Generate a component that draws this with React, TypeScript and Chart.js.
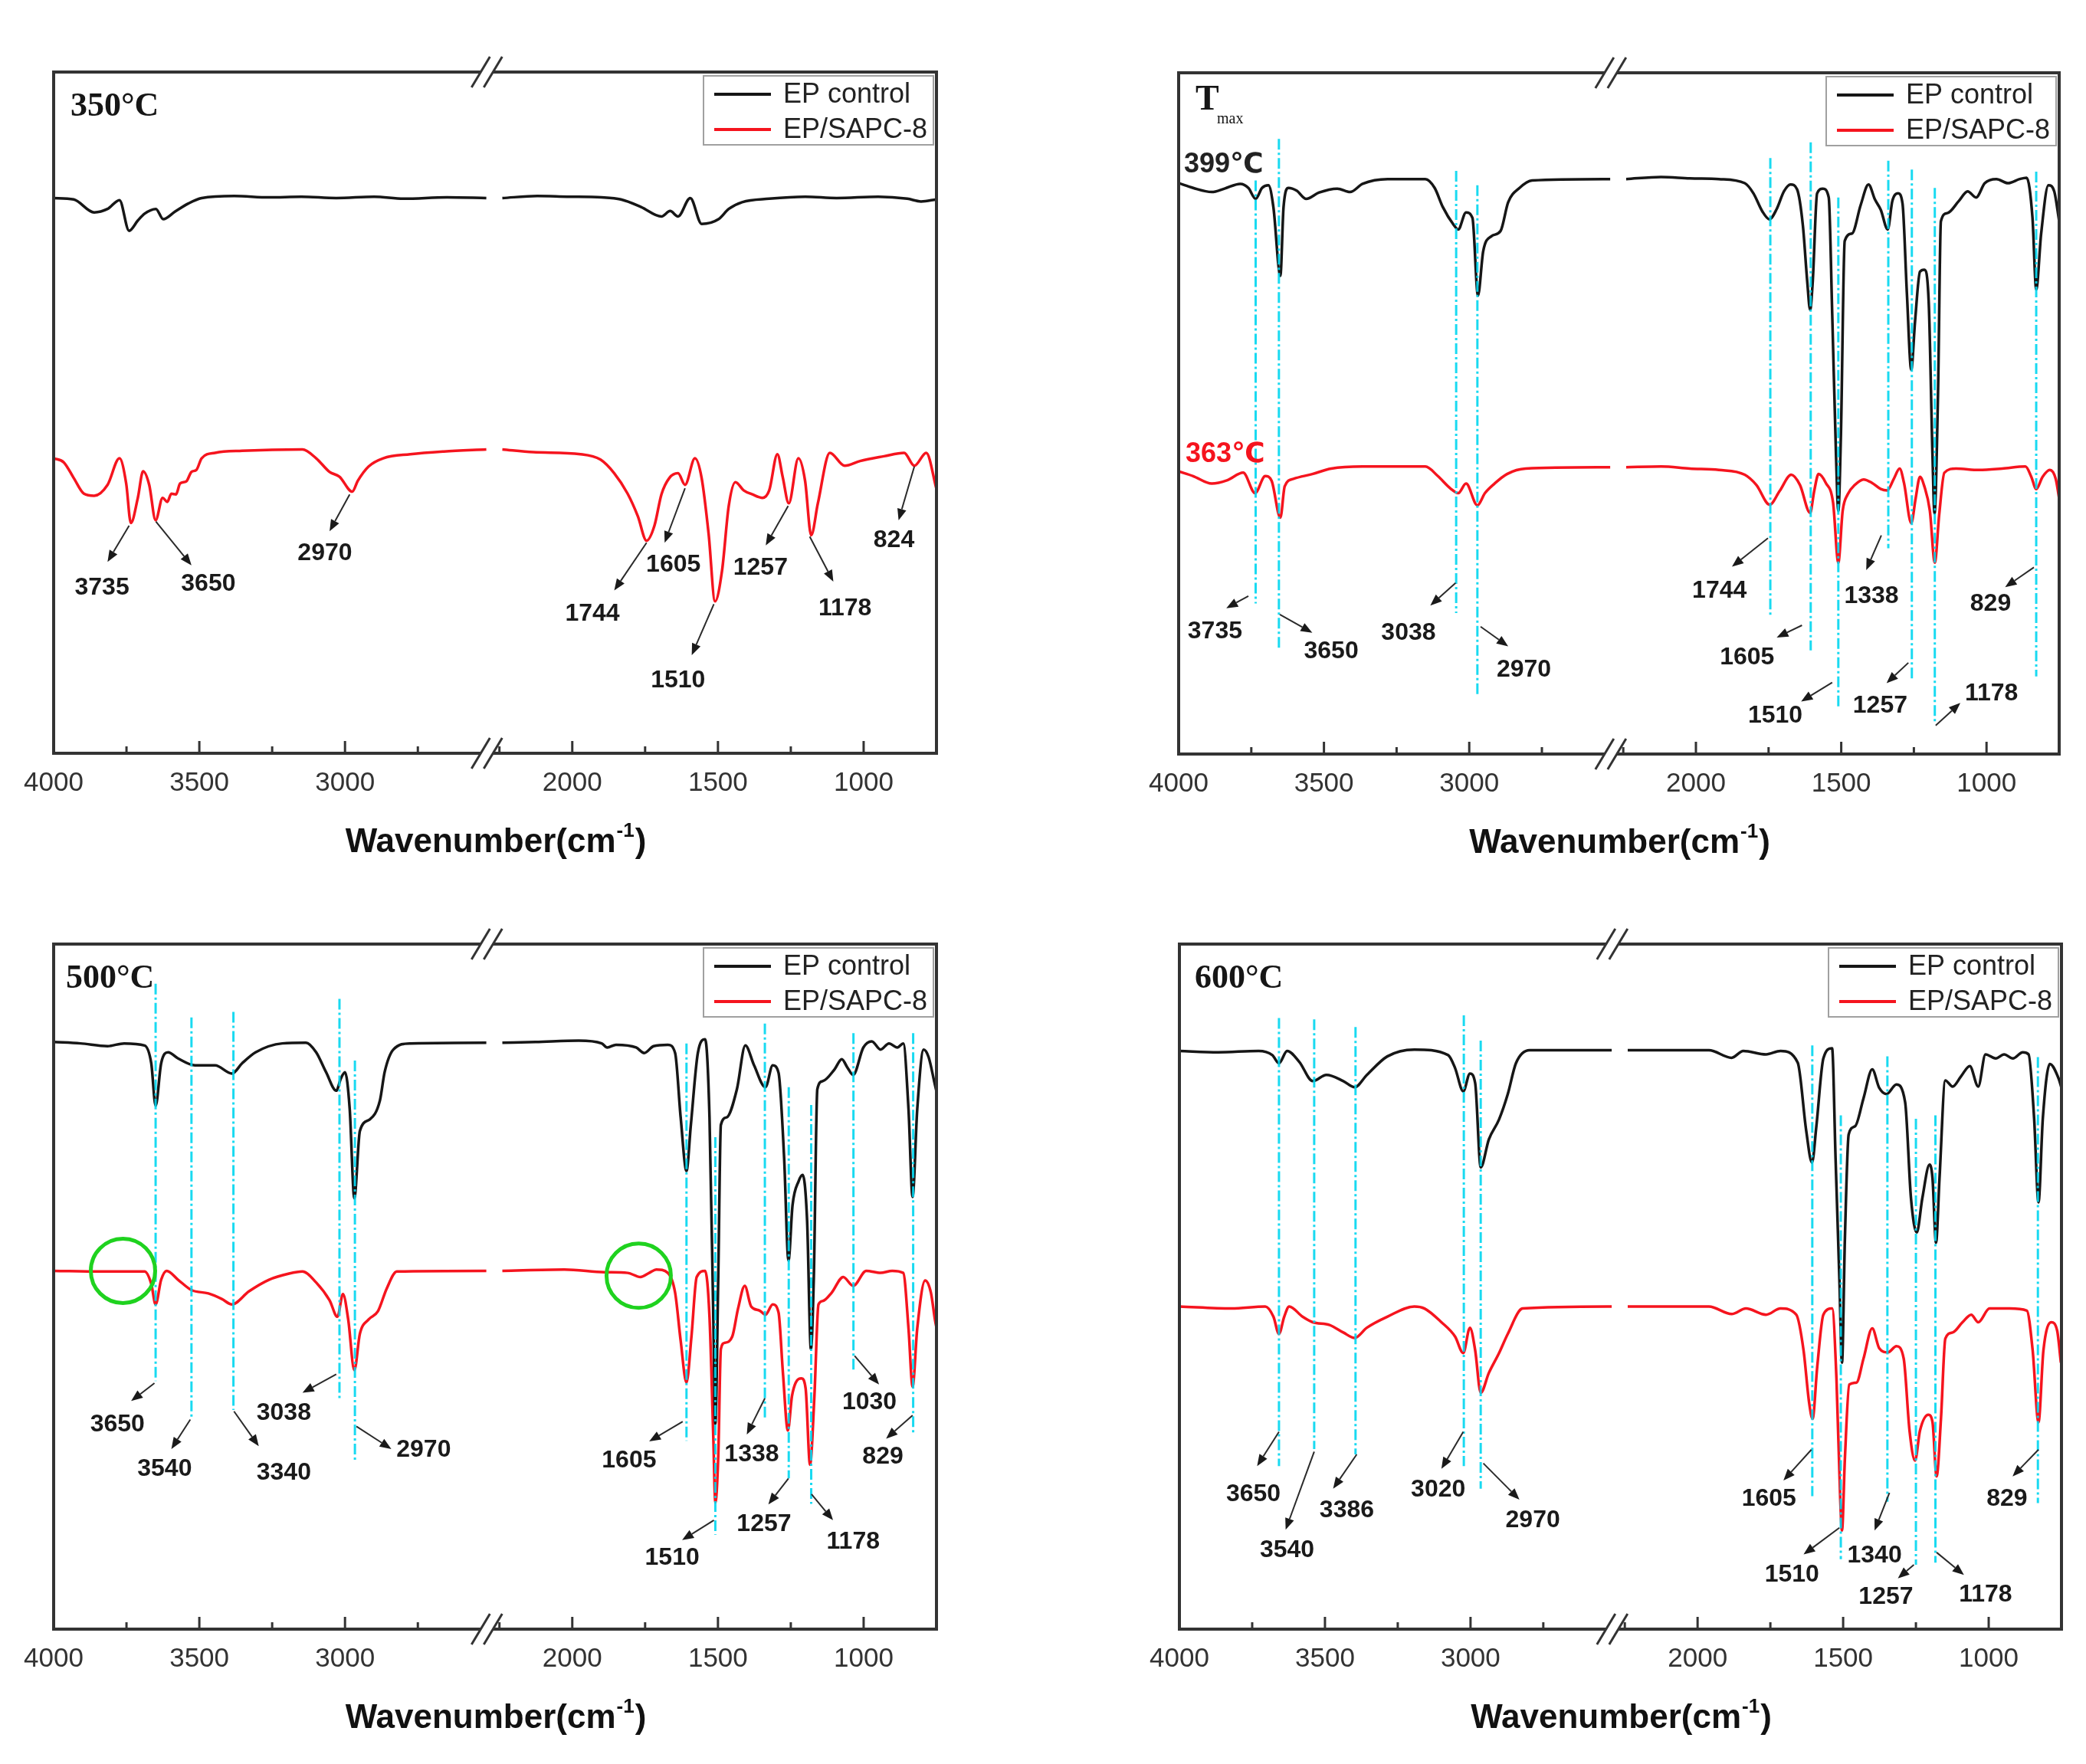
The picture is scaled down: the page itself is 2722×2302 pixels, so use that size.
import React, { useRef, useEffect } from 'react';
import { Chart, registerables } from 'chart.js';

Chart.register(...registerables);

// the x axis is broken: the left part runs 4000..2500, the right part 2280..750
const BREAK_HI = 2500;
const BREAK_LO = 2280;
const SHIFT = BREAK_HI - BREAK_LO;
const toU = (w: number) => (w >= BREAK_HI ? w - SHIFT : w);
const fromU = (u: number) => (u > BREAK_LO ? u + SHIFT : u);

const majorTicks = [4000, 3500, 3000, 2000, 1500, 1000];
const minorTicks = [3750, 3250, 2750, 2250, 1750, 1250];

const seriesLabels = ['EP control', 'EP/SAPC-8'];

// ---- 350 °C ----
const ep350 = [
  [4000, 81.5], [3931, 81.3], [3861, 79.4], [3815, 79.9], [3774, 81.2], [3741, 76.7], [3711, 78.2],
  [3688, 79.2], [3649, 79.9], [3624, 78.4], [3584, 79.5], [3538, 80.7], [3492, 81.5], [3380, 81.8],
  [3261, 81.6], [3150, 81.7], [3030, 81.5], [2900, 81.7], [2799, 81.4], [2650, 81.6], [2515, 81.5],
  [2240, 81.5], [2120, 81.8], [2018, 81.7], [1900, 81.6], [1833, 81.3], [1764, 80.2], [1694, 78.8],
  [1664, 79.6], [1637, 78.8], [1595, 81.5], [1556, 77.7], [1498, 78.4], [1463, 79.9], [1417, 80.9],
  [1324, 81.4], [1200, 81.7], [1093, 81.5], [950, 81.7], [850, 81.4], [803, 81.0], [750, 81.3],
];
const sapc350 = [
  [4000, 43.3], [3965, 42.7], [3931, 40.4], [3896, 38.1], [3861, 37.8], [3815, 39.4], [3774, 43.3],
  [3751, 39.6], [3735, 33.8], [3711, 37.5], [3693, 41.4], [3672, 39.4], [3650, 34.2], [3626, 37.5],
  [3610, 36.9], [3596, 38.1], [3580, 38.0], [3566, 39.6], [3545, 39.9], [3527, 41.3], [3510, 41.6],
  [3492, 43.3], [3446, 44.1], [3353, 44.4], [3146, 44.6], [3099, 43.3], [3053, 41.3], [3019, 40.6],
  [2975, 38.4], [2956, 40.0], [2919, 42.1], [2869, 43.3], [2776, 43.9], [2661, 44.3], [2515, 44.6],
  [2240, 44.6], [2134, 44.2], [1972, 43.9], [1903, 43.1], [1856, 41.1], [1810, 38.1], [1775, 34.8],
  [1745, 31.2], [1718, 33.4], [1694, 38.0], [1667, 40.4], [1637, 41.1], [1613, 39.4], [1579, 43.3],
  [1556, 40.4], [1532, 32.2], [1510, 22.3], [1486, 26.8], [1463, 36.3], [1440, 39.8], [1412, 38.6],
  [1382, 38.0], [1347, 37.5], [1324, 38.6], [1296, 43.9], [1278, 40.6], [1257, 36.7], [1224, 43.3],
  [1201, 40.0], [1180, 32.0], [1157, 36.7], [1116, 44.1], [1065, 42.2], [1012, 42.9], [930, 43.6],
  [861, 44.1], [826, 42.2], [785, 44.1], [750, 38.8],
];
const notes350 = [
  { text: '3735', from: [3741, 33.4], to: [3815, 28.1], at: [3834, 24.3] },
  { text: '3650', from: [3649, 34.0], to: [3527, 27.6], at: [3469, 24.8] },
  { text: '2970', from: [2984, 38.0], to: [3053, 32.6], at: [3069, 29.3] },
  { text: '1744', from: [1745, 30.9], to: [1856, 23.9], at: [1931, 20.5] },
  { text: '1605', from: [1613, 38.9], to: [1683, 30.9], at: [1653, 27.6] },
  { text: '1510', from: [1514, 21.9], to: [1590, 14.4], at: [1637, 10.7] },
  { text: '1257', from: [1259, 36.3], to: [1336, 30.5], at: [1354, 27.2] },
  { text: '1178', from: [1185, 31.8], to: [1104, 25.2], at: [1064, 21.2] },
  { text: '824', from: [826, 42.1], to: [880, 34.2], at: [896, 31.2] },
];

// ---- Tmax ----
const epTmax = [
  [4000, 83.8], [3950, 83.1], [3886, 82.5], [3842, 83.0], [3788, 83.7], [3760, 83.1], [3735, 81.5],
  [3713, 83.1], [3691, 83.5], [3674, 80.3], [3650, 70.2], [3639, 80.3], [3622, 83.1], [3594, 82.7],
  [3561, 81.5], [3518, 82.4], [3454, 83.0], [3410, 82.5], [3367, 83.7], [3281, 84.4], [3151, 84.4],
  [3119, 83.1], [3091, 80.3], [3054, 77.7], [3038, 77.0], [3011, 79.5], [2989, 78.7], [2970, 67.3],
  [2952, 73.8], [2924, 76.0], [2892, 76.8], [2866, 81.0], [2827, 83.1], [2784, 84.2], [2515, 84.4],
  [2240, 84.4], [2120, 84.7], [2021, 84.5], [1921, 84.4], [1832, 83.8], [1802, 82.3], [1772, 79.7],
  [1747, 78.5], [1722, 80.0], [1697, 82.6], [1674, 83.6], [1652, 82.9], [1632, 77.6], [1617, 69.4],
  [1607, 65.2], [1598, 69.4], [1583, 82.3], [1563, 83.0], [1543, 81.7], [1531, 64.6], [1518, 44.0],
  [1510, 35.7], [1501, 47.0], [1488, 75.3], [1463, 76.4], [1433, 80.6], [1406, 83.6], [1384, 81.4],
  [1364, 79.9], [1340, 77.0], [1324, 81.2], [1304, 82.3], [1289, 80.8], [1274, 67.6], [1259, 56.4],
  [1246, 63.5], [1229, 70.8], [1214, 71.1], [1199, 66.4], [1186, 44.0], [1179, 35.3], [1167, 52.8],
  [1157, 78.2], [1135, 79.4], [1095, 81.2], [1065, 82.6], [1036, 81.7], [1006, 83.8], [966, 84.4],
  [926, 83.8], [886, 84.4], [862, 84.6], [842, 78.8], [829, 68.2], [812, 76.4], [787, 83.5],
  [767, 82.6], [750, 78.2],
];
const sapcTmax = [
  [4000, 41.5], [3950, 40.8], [3886, 39.7], [3832, 40.2], [3778, 41.3], [3737, 38.3], [3702, 40.8],
  [3680, 40.1], [3650, 34.7], [3635, 39.3], [3605, 40.4], [3540, 41.1], [3475, 41.9], [3367, 42.2],
  [3151, 42.2], [3108, 40.8], [3065, 39.0], [3038, 38.3], [3011, 39.7], [2972, 36.5], [2946, 38.3],
  [2913, 39.7], [2870, 41.1], [2806, 41.9], [2515, 42.1],
  [2240, 42.1], [2120, 42.2], [2021, 41.9], [1921, 41.7], [1832, 41.0], [1792, 39.5], [1746, 36.6],
  [1712, 38.6], [1672, 41.0], [1642, 39.5], [1607, 35.4], [1593, 38.6], [1578, 41.1], [1553, 39.8],
  [1528, 36.9], [1510, 28.1], [1495, 35.7], [1478, 38.1], [1453, 39.5], [1423, 40.3], [1394, 39.8],
  [1364, 38.9], [1342, 38.7], [1319, 40.4], [1299, 41.9], [1284, 39.8], [1259, 33.9], [1244, 37.5],
  [1229, 40.7], [1214, 39.3], [1195, 35.7], [1178, 28.1], [1163, 35.1], [1145, 41.3], [1105, 41.9],
  [1026, 41.7], [946, 41.9], [866, 42.2], [846, 40.7], [829, 38.9], [807, 40.7], [782, 41.7],
  [762, 40.4], [750, 37.5],
];
const guidesTmax = [
  [3735, 84.2, 22.1], [3655, 90.3, 15.6], [3045, 85.6, 20.7], [2972, 83.5, 8.5], [1744, 87.5, 20.2],
  [1605, 89.8, 15.2], [1510, 81.7, 7.0], [1338, 87.1, 30.2], [1257, 85.8, 11.0], [1178, 83.1, 4.4],
  [829, 85.5, 11.4],
];
const notesTmax = [
  { text: '3735', from: [3760, 23.2], to: [3836, 21.4], at: [3875, 18.0] },
  { text: '3650', from: [3652, 20.5], to: [3540, 17.8], at: [3475, 15.1] },
  { text: '3038', from: [3047, 25.1], to: [3134, 21.8], at: [3209, 17.8] },
  { text: '2970', from: [2961, 18.7], to: [2866, 15.8], at: [2812, 12.3] },
  { text: '1744', from: [1752, 31.7], to: [1876, 27.5], at: [1919, 23.9] },
  { text: '1605', from: [1635, 18.9], to: [1722, 17.1], at: [1824, 14.2] },
  { text: '1510', from: [1531, 10.5], to: [1638, 7.7], at: [1727, 5.6] },
  { text: '1338', from: [1362, 32.1], to: [1414, 27.0], at: [1396, 23.1] },
  { text: '1257', from: [1269, 13.4], to: [1344, 10.4], at: [1366, 7.1] },
  { text: '1178', from: [1175, 4.2], to: [1090, 7.5], at: [983, 8.9] },
  { text: '829', from: [837, 27.4], to: [936, 24.5], at: [986, 22.0] },
];

// ---- 500 °C ----
const ep500 = [
  [4000, 85.7], [3908, 85.5], [3815, 85.1], [3758, 85.5], [3688, 85.2], [3665, 82.6], [3650, 76.4],
  [3631, 82.6], [3607, 84.2], [3573, 83.3], [3515, 82.3], [3446, 82.3], [3388, 81.1], [3353, 82.6],
  [3307, 84.2], [3215, 85.5], [3134, 85.6], [3099, 84.2], [3065, 81.3], [3030, 78.6], [3014, 80.4],
  [3000, 81.3], [2984, 76.0], [2968, 62.9], [2949, 72.7], [2915, 74.4], [2880, 77.2], [2864, 81.3],
  [2834, 84.6], [2776, 85.5], [2515, 85.6],
  [2240, 85.6], [2126, 85.7], [1978, 85.9], [1899, 85.5], [1880, 84.9], [1850, 85.3], [1781, 84.9],
  [1753, 84.1], [1721, 85.1], [1672, 85.3], [1647, 84.1], [1628, 74.7], [1608, 66.9], [1593, 73.6],
  [1569, 84.1], [1544, 86.1], [1529, 74.7], [1516, 45.6], [1509, 30.0], [1499, 51.4], [1490, 73.6],
  [1470, 74.7], [1435, 78.8], [1406, 85.2], [1376, 82.3], [1337, 79.1], [1312, 82.3], [1292, 81.2],
  [1273, 68.9], [1258, 53.8], [1244, 61.9], [1223, 65.4], [1209, 66.3], [1194, 59.6], [1181, 40.9],
  [1171, 51.4], [1159, 78.8], [1140, 80.0], [1100, 81.7], [1075, 83.2], [1056, 82.0], [1036, 80.9],
  [1001, 84.9], [972, 85.8], [942, 84.6], [913, 85.5], [884, 84.9], [864, 85.5], [846, 75.9],
  [832, 63.1], [816, 75.9], [794, 84.6], [777, 83.5], [755, 79.4], [750, 78.5],
];
const sapc500 = [
  [4000, 52.3], [3838, 52.2], [3688, 52.2], [3665, 50.4], [3650, 47.4], [3631, 51.0], [3612, 52.3],
  [3573, 51.0], [3527, 49.5], [3469, 49.0], [3423, 48.2], [3388, 47.4], [3330, 49.3], [3261, 51.0],
  [3192, 51.9], [3146, 52.2], [3099, 50.6], [3053, 48.0], [3026, 45.6], [3007, 48.9], [2989, 45.2],
  [2968, 37.8], [2949, 43.1], [2919, 45.2], [2887, 46.4], [2857, 49.7], [2822, 52.2], [2515, 52.3],
  [2240, 52.3], [2027, 52.5], [1889, 52.1], [1810, 52.0], [1766, 51.4], [1736, 52.0], [1711, 52.5],
  [1672, 52.0], [1647, 49.1], [1628, 42.1], [1608, 36.0], [1591, 42.7], [1573, 51.4], [1544, 52.3],
  [1529, 45.6], [1516, 28.1], [1509, 18.5], [1499, 25.2], [1490, 40.9], [1476, 41.8], [1451, 42.7],
  [1431, 46.8], [1408, 50.1], [1386, 47.1], [1357, 46.5], [1337, 45.9], [1312, 47.4], [1292, 46.2],
  [1277, 37.4], [1260, 29.0], [1246, 34.0], [1233, 36.0], [1213, 36.6], [1199, 35.1], [1184, 24.0],
  [1169, 34.0], [1155, 47.4], [1140, 47.9], [1110, 49.1], [1070, 51.4], [1036, 50.1], [991, 52.3],
  [942, 52.0], [902, 52.3], [864, 52.0], [846, 43.9], [832, 35.4], [816, 43.9], [789, 50.9],
  [769, 49.1], [755, 45.1], [750, 44.0],
];
const guides500 = [
  [3650, 94.2, 36.2], [3527, 89.3, 30.8], [3383, 90.1, 32.0], [3019, 92.0, 33.7], [2966, 83.0, 24.7],
  [1608, 85.5, 27.5], [1509, 71.8, 13.8], [1339, 88.4, 30.5], [1257, 79.1, 22.0], [1180, 76.5, 18.3],
  [1035, 87.0, 37.7], [830, 87.0, 28.7],
];
const notes500 = [
  { text: '3650', from: [3654, 35.9], to: [3734, 33.3], at: [3781, 29.8] },
  { text: '3540', from: [3531, 30.6], to: [3596, 26.3], at: [3619, 23.4] },
  { text: '3340', from: [3381, 31.8], to: [3296, 26.7], at: [3210, 22.8] },
  { text: '3038', from: [3030, 37.2], to: [3146, 34.5], at: [3210, 31.5] },
  { text: '2970', from: [2961, 29.6], to: [2841, 26.3], at: [2730, 26.1] },
  { text: '1605', from: [1621, 30.3], to: [1736, 27.4], at: [1805, 24.6] },
  { text: '1510', from: [1514, 15.9], to: [1623, 13.0], at: [1657, 10.4] },
  { text: '1338', from: [1339, 33.7], to: [1401, 28.4], at: [1384, 25.5] },
  { text: '1257', from: [1258, 22.0], to: [1327, 18.2], at: [1342, 15.3] },
  { text: '1178', from: [1179, 19.7], to: [1105, 15.9], at: [1036, 12.7] },
  { text: '1030', from: [1031, 39.9], to: [947, 35.7], at: [980, 33.1] },
  { text: '829', from: [832, 31.2], to: [923, 27.8], at: [934, 25.2] },
];
const circles500 = [[3762, 52.3], [1772, 51.6]];

// ---- 600 °C ----
const ep600 = [
  [4000, 84.4], [3867, 84.2], [3728, 84.4], [3681, 83.8], [3658, 82.6], [3630, 84.4], [3588, 82.8],
  [3542, 80.0], [3495, 80.9], [3437, 80.0], [3398, 79.1], [3356, 80.9], [3286, 83.6], [3193, 84.6],
  [3077, 83.8], [3053, 81.9], [3025, 78.5], [3002, 81.1], [2984, 79.7], [2965, 67.4], [2937, 71.5],
  [2902, 74.4], [2872, 78.1], [2844, 82.6], [2797, 84.5], [2515, 84.5],
  [2240, 84.5], [1961, 84.5], [1883, 83.4], [1843, 84.4], [1765, 83.9], [1715, 84.4], [1656, 82.7],
  [1627, 72.8], [1607, 68.1], [1592, 73.4], [1568, 83.3], [1538, 84.8], [1526, 68.7], [1513, 51.2],
  [1504, 38.9], [1494, 57.0], [1481, 72.2], [1459, 73.4], [1430, 77.5], [1400, 81.7], [1376, 79.0],
  [1351, 78.1], [1317, 79.5], [1287, 76.9], [1267, 62.9], [1247, 57.9], [1228, 62.9], [1203, 67.8],
  [1193, 65.8], [1181, 56.4], [1169, 65.8], [1149, 80.1], [1124, 79.2], [1095, 80.7], [1065, 82.2],
  [1036, 79.2], [1011, 83.9], [976, 83.3], [947, 83.9], [917, 83.3], [883, 84.2], [863, 83.9],
  [844, 74.6], [829, 62.3], [814, 74.6], [790, 82.5], [760, 80.4], [750, 79.0],
];
const sapc600 = [
  [4000, 47.1], [3821, 46.8], [3705, 47.1], [3677, 45.6], [3658, 43.1], [3640, 45.6], [3623, 47.1],
  [3577, 45.6], [3542, 44.8], [3484, 44.4], [3437, 43.3], [3398, 42.5], [3356, 44.0], [3286, 45.6],
  [3193, 47.1], [3158, 46.8], [3100, 44.8], [3053, 42.7], [3025, 40.3], [3002, 44.0], [2984, 40.7],
  [2965, 34.5], [2937, 37.4], [2902, 40.3], [2872, 43.1], [2821, 46.8], [2515, 47.1],
  [2240, 47.1], [1961, 47.1], [1883, 46.0], [1834, 46.8], [1765, 45.9], [1715, 46.8], [1661, 45.9],
  [1636, 40.7], [1617, 33.1], [1605, 30.7], [1589, 38.3], [1568, 45.9], [1538, 46.8], [1523, 36.6],
  [1510, 19.0], [1504, 14.4], [1494, 24.9], [1479, 35.7], [1454, 36.0], [1430, 39.5], [1400, 43.9],
  [1376, 41.0], [1346, 40.4], [1317, 41.3], [1292, 39.5], [1272, 29.0], [1253, 24.6], [1236, 29.0],
  [1207, 31.3], [1193, 30.2], [1179, 22.3], [1164, 30.7], [1149, 42.4], [1124, 43.3], [1090, 44.8],
  [1060, 45.9], [1036, 44.8], [997, 46.8], [928, 46.8], [869, 46.5], [849, 40.7], [829, 30.2],
  [812, 40.7], [785, 44.8], [765, 43.6], [752, 38.9],
];
const guides600 = [
  [3658, 89.2, 23.8], [3537, 89.0, 26.3], [3395, 87.9, 25.5], [3023, 89.6, 23.8], [2965, 85.9, 20.5],
  [1606, 85.2, 19.4], [1508, 75.0, 10.2], [1348, 83.6, 18.6], [1250, 74.5, 9.4], [1183, 75.0, 9.7],
  [831, 83.5, 18.4],
];
const notes600 = [
  { text: '3650', from: [3658, 28.8], to: [3733, 23.8], at: [3746, 19.7] },
  { text: '3540', from: [3537, 25.9], to: [3635, 14.5], at: [3630, 11.5] },
  { text: '3386', from: [3391, 25.5], to: [3472, 20.5], at: [3425, 17.3] },
  { text: '3020', from: [3025, 28.8], to: [3100, 23.4], at: [3111, 20.3] },
  { text: '2970', from: [2956, 24.2], to: [2832, 18.9], at: [2786, 15.9] },
  { text: '1605', from: [1609, 26.2], to: [1705, 21.7], at: [1755, 19.0] },
  { text: '1510', from: [1513, 14.8], to: [1636, 10.9], at: [1676, 7.9] },
  { text: '1340', from: [1341, 19.9], to: [1392, 14.4], at: [1392, 10.7] },
  { text: '1257', from: [1257, 9.4], to: [1312, 7.4], at: [1353, 4.7] },
  { text: '1178', from: [1179, 11.2], to: [1085, 7.9], at: [1011, 5.0] },
  { text: '829', from: [829, 26.2], to: [918, 22.3], at: [937, 19.0] },
];

const SANS = '"Liberation Sans", Arial, "DejaVu Sans", sans-serif';
const SERIF = '"Liberation Serif", "Times New Roman", serif';
const BLACK = '#161616';
const RED = '#f5141e';
const PAD_L = 70;
const PAD_T = 60;
const PAD_R = 40;
const AXIS_H = 180;

const panels = [
  {
    key: 'p350', area: [70, 94, 1222, 983], ep: ep350, sapc: sapc350, guides: [], notes: notes350, circles: [],
    texts: [{ text: '350°C', dx: 22, dy: 57, font: `bold 44px ${SERIF}`, color: BLACK }],
  },
  {
    key: 'ptmax', area: [1538, 95, 2687, 984], ep: epTmax, sapc: sapcTmax, guides: guidesTmax, notes: notesTmax, circles: [],
    texts: [
      { text: 'T', dx: 22, dy: 48, font: `bold 46px ${SERIF}`, color: BLACK },
      { text: 'max', dx: 50, dy: 66, font: `20px ${SERIF}`, color: BLACK },
      { text: '399℃', dx: 7, dy: 130, font: `bold 36px ${SANS}`, color: '#222' },
      { text: '363℃', dx: 9, dy: 508, font: `bold 36px ${SANS}`, color: RED },
    ],
  },
  {
    key: 'p500', area: [70, 1232, 1222, 2126], ep: ep500, sapc: sapc500, guides: guides500, notes: notes500, circles: circles500,
    texts: [{ text: '500°C', dx: 16, dy: 57, font: `bold 44px ${SERIF}`, color: BLACK }],
  },
  {
    key: 'p600', area: [1539, 1232, 2690, 2126], ep: ep600, sapc: sapc600, guides: guides600, notes: notes600, circles: [],
    texts: [{ text: '600°C', dx: 20, dy: 57, font: `bold 44px ${SERIF}`, color: BLACK }],
  },
];

// sorted along the axis, with a null point so the line stops at the break
function toSeries(points: number[][]) {
  const pts = points.map(([w, y]) => ({ x: toU(w), y })).sort((a, b) => a.x - b.x);
  const out: any[] = [];
  pts.forEach((p, i) => {
    if (i > 0 && pts[i - 1].x < BREAK_LO - 5 && p.x > BREAK_LO - 5) out.push({ x: BREAK_LO - 5, y: null });
    out.push(p);
  });
  return out;
}

function arrow(ctx, x1, y1, x2, y2) {
  const ang = Math.atan2(y2 - y1, x2 - x1);
  const L = 15, W = 6;
  const bx = x2 - L * Math.cos(ang), by = y2 - L * Math.sin(ang);
  ctx.beginPath();
  ctx.moveTo(x1, y1);
  ctx.lineTo(bx, by);
  ctx.stroke();
  ctx.beginPath();
  ctx.moveTo(x2, y2);
  ctx.lineTo(bx + W * Math.sin(ang), by - W * Math.cos(ang));
  ctx.lineTo(bx - W * Math.sin(ang), by + W * Math.cos(ang));
  ctx.closePath();
  ctx.fill();
}

function decor(cfg) {
  return {
    id: 'decor_' + cfg.key,
    afterDatasetsDraw(chart) {
      const { ctx, scales } = chart;
      const X = (w) => scales.x.getPixelForValue(toU(w));
      const Y = (v) => scales.y.getPixelForValue(v);
      ctx.save();
      ctx.strokeStyle = 'rgba(0, 214, 240, 0.9)';
      ctx.lineWidth = 3;
      ctx.setLineDash([14, 4, 3, 4]);
      for (const [w, top, bottom] of cfg.guides) {
        ctx.beginPath();
        ctx.moveTo(X(w), Y(top));
        ctx.lineTo(X(w), Y(bottom));
        ctx.stroke();
      }
      ctx.setLineDash([]);
      ctx.strokeStyle = '#1fd21f';
      ctx.lineWidth = 5;
      for (const [w, v] of cfg.circles) {
        ctx.beginPath();
        ctx.arc(X(w), Y(v), 42, 0, Math.PI * 2);
        ctx.stroke();
      }
      ctx.restore();
    },
    afterDraw(chart) {
      const { ctx, chartArea: a, scales } = chart;
      const X = (w) => scales.x.getPixelForValue(toU(w));
      const Y = (v) => scales.y.getPixelForValue(v);
      ctx.save();

      // frame and inward ticks
      ctx.strokeStyle = '#333';
      ctx.lineWidth = 4;
      ctx.strokeRect(a.left, a.top, a.right - a.left, a.bottom - a.top);
      ctx.lineWidth = 3;
      for (const w of majorTicks) {
        ctx.beginPath(); ctx.moveTo(X(w), a.bottom); ctx.lineTo(X(w), a.bottom - 16); ctx.stroke();
      }
      for (const w of minorTicks) {
        ctx.beginPath(); ctx.moveTo(X(w), a.bottom); ctx.lineTo(X(w), a.bottom - 9); ctx.stroke();
      }

      // axis break marks
      const bx = scales.x.getPixelForValue(BREAK_LO) - 5;
      for (const yy of [a.top, a.bottom]) {
        ctx.fillStyle = '#fff';
        ctx.fillRect(bx - 8, yy - 4, 16, 8);
        ctx.strokeStyle = '#333';
        ctx.lineWidth = 3;
        for (const off of [-8, 8]) {
          ctx.beginPath();
          ctx.moveTo(bx + off - 12, yy + 20);
          ctx.lineTo(bx + off + 12, yy - 20);
          ctx.stroke();
        }
      }

      // legend
      const lw = 300, lh = 90;
      const lx = a.right - 4 - lw, ly = a.top + 5;
      ctx.strokeStyle = '#a0a0a0';
      ctx.lineWidth = 2;
      ctx.strokeRect(lx, ly, lw, lh);
      chart.data.datasets.forEach((ds, i) => {
        const ry = ly + 24 + i * 46;
        ctx.strokeStyle = ds.borderColor;
        ctx.lineWidth = 4;
        ctx.beginPath(); ctx.moveTo(lx + 14, ry); ctx.lineTo(lx + 88, ry); ctx.stroke();
        ctx.fillStyle = '#222';
        ctx.font = `36px ${SANS}`;
        ctx.textAlign = 'left';
        ctx.textBaseline = 'middle';
        ctx.fillText(ds.label, lx + 104, ry + 1);
      });

      // panel captions
      ctx.textBaseline = 'alphabetic';
      for (const t of cfg.texts) {
        ctx.font = t.font;
        ctx.fillStyle = t.color;
        ctx.fillText(t.text, a.left + t.dx, a.top + t.dy);
      }

      // peak annotations
      ctx.strokeStyle = '#2a2a2a';
      ctx.fillStyle = '#1a1a1a';
      ctx.lineWidth = 2;
      for (const n of cfg.notes) {
        arrow(ctx, X(n.from[0]), Y(n.from[1]), X(n.to[0]), Y(n.to[1]));
      }
      ctx.font = `bold 32px ${SANS}`;
      ctx.textAlign = 'center';
      ctx.textBaseline = 'middle';
      for (const n of cfg.notes) ctx.fillText(n.text, X(n.at[0]), Y(n.at[1]));

      // axis title with superscript
      const main = 'Wavenumber(cm';
      const sup = '-1';
      const close = ')';
      ctx.textBaseline = 'alphabetic';
      ctx.textAlign = 'left';
      ctx.fillStyle = '#111';
      ctx.font = `bold 44px ${SANS}`;
      const w1 = ctx.measureText(main).width;
      const w3 = ctx.measureText(close).width;
      ctx.font = `bold 26px ${SANS}`;
      const w2 = ctx.measureText(sup).width;
      const tx = (a.left + a.right) / 2 - (w1 + w2 + w3) / 2;
      const ty = a.bottom + 129;
      ctx.font = `bold 44px ${SANS}`;
      ctx.fillText(main, tx, ty);
      ctx.fillText(close, tx + w1 + w2 + 2, ty);
      ctx.font = `bold 26px ${SANS}`;
      ctx.fillText(sup, tx + w1 + 1, ty - 20);
      ctx.restore();
    },
  };
}

function Panel({ cfg }) {
  const canvasRef = useRef<HTMLCanvasElement | null>(null);
  const [l, t, r, b] = cfg.area;
  const width = r - l + PAD_L + PAD_R;
  const height = b - t + PAD_T + AXIS_H;

  useEffect(() => {
    if (!canvasRef.current) return;
    const chart = new Chart(canvasRef.current, {
      type: 'line',
      data: {
        datasets: [
          { label: seriesLabels[0], data: toSeries(cfg.ep), borderColor: BLACK, borderWidth: 3.5, pointRadius: 0, cubicInterpolationMode: 'monotone' },
          { label: seriesLabels[1], data: toSeries(cfg.sapc), borderColor: RED, borderWidth: 3.5, pointRadius: 0, cubicInterpolationMode: 'monotone' },
        ],
      },
      options: {
        animation: false,
        responsive: false,
        devicePixelRatio: 1,
        events: [],
        layout: { padding: { left: PAD_L, top: PAD_T, right: PAD_R, bottom: 0 } },
        plugins: { legend: { display: false }, tooltip: { enabled: false } },
        scales: {
          x: {
            type: 'linear',
            reverse: true,
            min: 750,
            max: 4000 - SHIFT,
            grid: { display: false, drawTicks: false },
            border: { display: false },
            afterBuildTicks: (scale) => {
              scale.ticks = majorTicks.map((w) => ({ value: toU(w) }));
            },
            afterFit: (scale) => {
              scale.height = AXIS_H;
            },
            ticks: {
              autoSkip: false,
              maxRotation: 0,
              padding: 18,
              color: '#333',
              font: { family: SANS, size: 35 },
              callback: (v) => String(fromU(Number(v))),
            },
          },
          y: { display: false, min: 0, max: 100 },
        },
      },
      plugins: [decor(cfg)],
    });
    return () => chart.destroy();
  }, [cfg]);

  return (
    <canvas
      ref={canvasRef}
      width={width}
      height={height}
      style={{ position: 'absolute', left: l - PAD_L, top: t - PAD_T, width, height }}
    />
  );
}

export default function App() {
  return (
    <div style={{ position: 'absolute', left: 0, top: 0, width: 2722, height: 2302, background: '#fff', overflow: 'hidden' }}>
      {panels.map((p) => (
        <Panel key={p.key} cfg={p} />
      ))}
    </div>
  );
}
